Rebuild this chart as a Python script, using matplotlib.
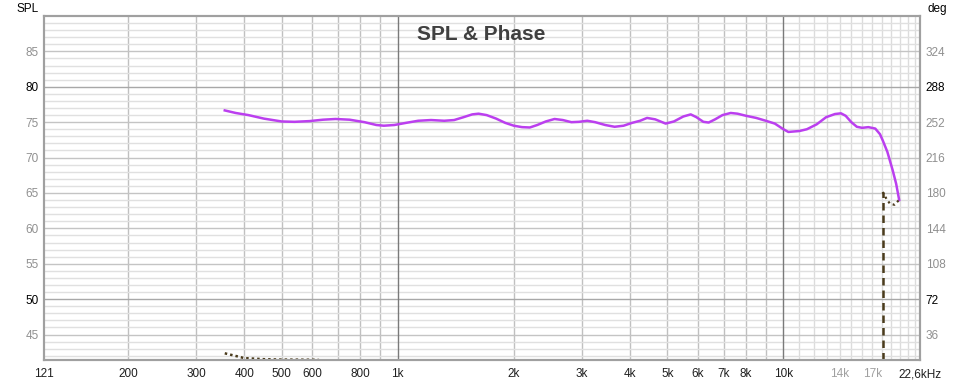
import numpy as np
import matplotlib.pyplot as plt

plt.rcParams['font.family'] = ['Liberation Sans', 'DejaVu Sans']

# SPL curve (Hz, dB)
spl_freq = [356, 380, 410, 450, 500, 540, 590, 640, 690, 750, 820, 880, 920, 980,
            1050, 1130, 1220, 1320, 1400, 1480, 1560, 1620, 1700, 1800, 1900, 2000,
            2100, 2200, 2300, 2420, 2550, 2680, 2820, 2950, 3100, 3250, 3450, 3650,
            3850, 4050, 4250, 4430, 4650, 4950, 5200, 5500, 5750, 5950, 6200, 6400,
            6650, 6950, 7300, 7600, 8000, 8500, 9000, 9500, 10000, 10300, 11000,
            11500, 12200, 12900, 13600, 14100, 14500, 15000, 15500, 16000, 16600,
            17300, 17800, 18100, 18600, 19200, 19600, 19960]
spl_db = [76.66, 76.3, 76.0, 75.5, 75.1, 75.05, 75.15, 75.35, 75.45, 75.35, 75.0,
          74.6, 74.5, 74.6, 74.9, 75.2, 75.3, 75.2, 75.3, 75.7, 76.1, 76.2, 76.0,
          75.5, 74.9, 74.5, 74.3, 74.25, 74.6, 75.1, 75.45, 75.3, 75.0, 75.05, 75.2,
          75.0, 74.6, 74.35, 74.5, 74.9, 75.2, 75.6, 75.4, 74.8, 75.1, 75.8, 76.1,
          75.7, 75.05, 74.95, 75.4, 76.0, 76.3, 76.2, 75.9, 75.6, 75.2, 74.8, 74.0,
          73.62, 73.75, 74.0, 74.7, 75.7, 76.15, 76.25, 75.9, 75.0, 74.35, 74.2,
          74.3, 74.1, 73.3, 72.4, 70.8, 68.2, 66.3, 64.0]

# Phase (Hz, deg) - low part mostly below the visible range
ph_freq = [356, 380, 400, 450, 500, 620, 700, 1000, 3000, 10000, 18080]
ph_deg = [16.9, 14.2, 12.0, 10.9, 10.5, 10.3, 4, -25, -90, -150, -178]
# after the wrap
ph_hf_freq = [18080, 18500, 18890, 19400, 19960]
ph_hf_deg = [181, 174, 169, 168, 173]

spl_ticks = [45, 50, 55, 60, 65, 70, 75, 80, 85]
deg_ticks = [36, 72, 108, 144, 180, 216, 252, 288, 324]
x_ticks = [121, 200, 300, 400, 500, 600, 800, 1000, 2000, 3000, 4000, 5000, 6000,
           7000, 8000, 10000, 14000, 17000, 22600]
x_labels = ['121', '200', '300', '400', '500', '600', '800', '1k', '2k', '3k', '4k',
            '5k', '6k', '7k', '8k', '10k', '14k', '17k', '22,6kHz']

fmin, fmax = 121, 22600
ymin, ymax = 41.4, 90

fig = plt.figure(figsize=(9.77, 3.84), dpi=100)
ax = fig.add_axes([44 / 977, 1 - 360 / 384, 876 / 977, 344 / 384])
ax.set_xscale('log')
ax.set_xlim(fmin, fmax)
ax.set_ylim(ymin, ymax)

# grid
for f in list(range(200, 1000, 100)) + list(range(2000, 10000, 1000)):
    ax.axvline(f, color='#c0c0c0', lw=1, zorder=0)
for f in range(11000, 23000, 1000):
    ax.axvline(f, color='#dcdcdc', lw=1, zorder=0)
for f in [1000, 10000]:
    ax.axvline(f, color='#7a7a7a', lw=1, zorder=1)
for v in range(42, 90):
    if v in (50, 80):
        c = '#a8a8a8'
    elif v % 5 == 0:
        c = '#c4c4c4'
    else:
        c = '#e0e0e0'
    ax.axhline(v, color=c, lw=1, zorder=0)

ax.plot(spl_freq, spl_db, color='#bb3fef', lw=1.8, zorder=3,
        solid_joinstyle='round')

ax2 = ax.twinx()
ax2.set_ylim((ymin - 40) * 7.2, (ymax - 40) * 7.2)
ax2.plot(ph_freq, ph_deg, color='#4a3b1c', lw=1.8, ls=(0, (1, 1.2)), zorder=2)
ax2.vlines(ph_hf_freq[0], ph_deg[-1], ph_hf_deg[0], color='#4a3b1c', lw=1.8,
           ls=(0, (3, 2)), zorder=2)
ax2.plot(ph_hf_freq, ph_hf_deg, color='#4a3b1c', lw=1.6, ls=(0, (1, 1.5)), zorder=2)

for a in (ax, ax2):
    for s in a.spines.values():
        s.set_color('#a0a0a0')
        s.set_linewidth(1.5)
    a.tick_params(length=0, labelsize=8.5)

ax.set_xticks(x_ticks)
ax.set_xticklabels(x_labels)
ax.xaxis.set_minor_locator(plt.NullLocator())
ax.tick_params(axis='x', pad=6)
for lab, f in zip(ax.get_xticklabels(), x_ticks):
    lab.set_color('#a0a0a0' if f in (14000, 17000) else '#202020')

ax.set_yticks(spl_ticks)
ax.tick_params(axis='y', pad=4)
for lab, v in zip(ax.get_yticklabels(), spl_ticks):
    lab.set_color('#000000' if v in (50, 80) else '#909090')

ax2.set_yticks(deg_ticks)
ax2.tick_params(axis='y', pad=4)
for lab, v in zip(ax2.get_yticklabels(), deg_ticks):
    lab.set_color('#000000' if v in (72, 288) else '#909090')

fig.text(28 / 977, 1 - 9 / 384, 'SPL', fontsize=8.5, ha='center', va='center')
fig.text(937 / 977, 1 - 9 / 384, 'deg', fontsize=8.5, ha='center', va='center')
fig.text(481 / 977, 1 - 34 / 384, 'SPL & Phase', fontsize=15, fontweight='bold',
         color='#404040', ha='center', va='center')

fig.savefig('out.png', dpi=100)
